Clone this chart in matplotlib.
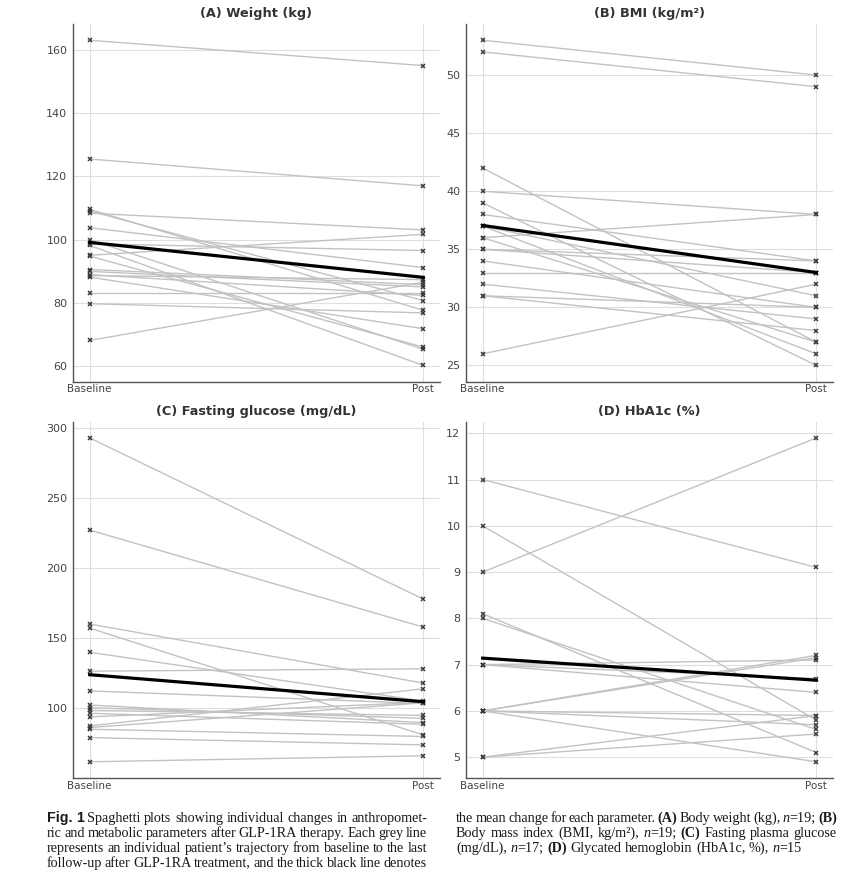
import re
import numpy as np
import matplotlib
matplotlib.use('Agg')
import matplotlib.pyplot as plt

# time points
timepoints = ['Baseline', 'Post']

# (A) weight, kg  (n=19)
weight_base = [163.0, 125.5, 109.6, 109.1, 108.4, 103.8, 100.0, 98.7, 98.2, 95.1,
               94.8, 90.6, 90.0, 88.7, 88.2, 83.2, 79.8, 68.2, 89.0]
weight_post = [155.0, 117.0, 77.7, 80.8, 103.1, 91.2, 65.4, 96.6, 60.3, 101.7,
               66.1, 85.8, 85.1, 87.4, 71.9, 83.2, 76.9, 86.6, 82.4]

# (B) BMI, kg/m2  (n=19)
bmi_base = [53, 52, 42, 40, 39, 38, 37, 37, 36, 36, 35, 35, 34, 33, 32, 31, 31, 26, 37]
bmi_post = [50, 49, 27, 38, 25, 34, 31, 26, 38, 27, 34, 33, 30, 33, 29, 30, 28, 32, 33]

# (C) fasting glucose, mg/dL  (n=17)
glucose_base = [292.9, 227.0, 159.8, 156.9, 139.6, 126.1, 112.0, 101.9, 100.0,
                98.0, 96.0, 93.4, 87.0, 85.8, 84.6, 78.6, 61.3]
glucose_post = [177.6, 157.6, 117.6, 80.5, 104.7, 127.8, 103.0, 89.3, 92.4,
                94.5, 88.1, 103.8, 113.5, 103.5, 79.4, 73.4, 65.6]

# (D) HbA1c, %  (n=15)
hba1c_base = [11.0, 10.0, 9.0, 8.1, 8.0, 7.0, 7.0, 6.0, 6.0, 6.0, 6.0, 6.0, 5.0, 5.0, 7.0]
hba1c_post = [9.1, 5.8, 11.9, 5.1, 5.6, 7.1, 6.4, 7.2, 7.15, 5.9, 5.7, 4.9, 5.9, 5.5, 6.7]

titles = ['(A) Weight (kg)', '(B) BMI (kg/m²)', '(C) Fasting glucose (mg/dL)', '(D) HbA1c (%)']
yticks_a = [60, 80, 100, 120, 140, 160]
yticks_b = [25, 30, 35, 40, 45, 50]
yticks_c = [100, 150, 200, 250, 300]
yticks_d = [5, 6, 7, 8, 9, 10, 11, 12]

W, H = 850, 876
fig = plt.figure(figsize=(W / 100, H / 100), dpi=100)


def pos(l, r, t, b):
    return [l / W, 1 - b / H, (r - l) / W, (b - t) / H]


panels = [
    (pos(73, 440, 24, 381.7), weight_base, weight_post, yticks_a),
    (pos(466, 833, 24, 381.7), bmi_base, bmi_post, yticks_b),
    (pos(73, 440, 421.7, 778), glucose_base, glucose_post, yticks_c),
    (pos(466, 833, 421.7, 778), hba1c_base, hba1c_post, yticks_d),
]

xs = np.arange(len(timepoints))
for (rect, base, post, yt), title in zip(panels, titles):
    ax = fig.add_axes(rect)
    for b, p in zip(base, post):
        ax.plot(xs, [b, p], color='#c2c2c2', lw=1.0, marker='x', ms=3.5,
                mec='#3a3a3a', mew=1.1, zorder=2)
    # thick mean line
    ax.plot(xs, [np.mean(base), np.mean(post)], color='black', lw=2.3, zorder=3)

    ax.set_xticks(xs)
    ax.set_xticklabels(timepoints)
    ax.set_yticks(yt)
    ax.tick_params(length=0, labelsize=7.5, labelcolor='#444444', pad=2)
    ax.tick_params(axis='y', labelsize=8, pad=4)
    ax.grid(True, color='#dedede', lw=0.8)
    ax.set_axisbelow(True)
    for s in ['top', 'right']:
        ax.spines[s].set_visible(False)
    for s in ['left', 'bottom']:
        ax.spines[s].set_color('#555555')
        ax.spines[s].set_linewidth(1.0)
    ax.set_title(title, fontsize=9.3, fontweight='bold', color='#333333', pad=5)

# ---- caption, two justified columns ----
styles = {
    'r': dict(family='Liberation Serif'),
    'i': dict(family='Liberation Serif', style='italic'),
    'b': dict(family='Liberation Serif', weight='bold'),
    's': dict(family='Liberation Sans', weight='bold'),
}

left_lines = [
    "##Fig.## ##1## Spaghetti plots showing individual changes in anthropomet-",
    "ric and metabolic parameters after GLP-1RA therapy. Each grey line",
    "represents an individual patient’s trajectory from baseline to the last",
    "follow-up after GLP-1RA treatment, and the thick black line denotes",
]
right_lines = [
    "the mean change for each parameter. **(A)** Body weight (kg), _n_=19; **(B)**",
    "Body mass index (BMI, kg/m²), _n_=19; **(C)** Fasting plasma glucose",
    "(mg/dL), _n_=17; **(D)** Glycated hemoglobin (HbA1c, %), _n_=15",
]


def parse(word):
    out = []
    for seg in re.split(r'(\*\*.+?\*\*|_.+?_|##.+?##)', word):
        if not seg:
            continue
        if seg.startswith('**'):
            out.append((seg[2:-2], 'b'))
        elif seg.startswith('##'):
            out.append((seg[2:-2], 's'))
        elif seg.startswith('_') and seg.endswith('_') and len(seg) > 2:
            out.append((seg[1:-1], 'i'))
        else:
            out.append((seg, 'r'))
    return out


renderer = fig.canvas.get_renderer()


def caption_line(line, x0, x1, y, justify=True, fs=10.2):
    words = []
    for w in line.split(' '):
        pieces = [fig.text(0, 1 - y / H, txt, fontsize=fs, va='baseline',
                           color='#1a1a1a', **styles[st]) for txt, st in parse(w)]
        widths = [p.get_window_extent(renderer).width for p in pieces]
        words.append((pieces, widths))
    total = sum(sum(ws) for _, ws in words)
    if justify and len(words) > 1:
        gap = (x1 - x0 - total) / (len(words) - 1)
    else:
        gap = fs * 100 / 72 * 0.25
    x = x0
    for pieces, widths in words:
        for p, w in zip(pieces, widths):
            p.set_x(x / W)
            x += w
        x += gap


line_y = [822, 837, 852, 867]
for yy, ln in zip(line_y, left_lines):
    caption_line(ln, 47, 427, yy)
for i, (yy, ln) in enumerate(zip(line_y, right_lines)):
    caption_line(ln, 456, 837, yy, justify=(i < len(right_lines) - 1))

fig.savefig('out.png', dpi=100, facecolor='white')
